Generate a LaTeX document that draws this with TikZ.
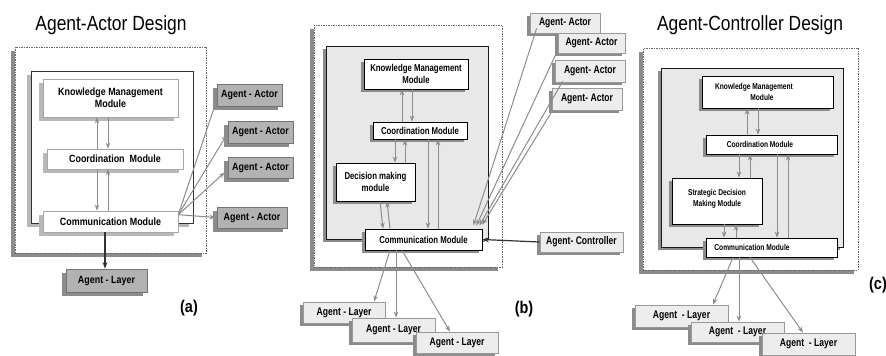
\documentclass[tikz,border=0pt]{standalone}
\usepackage{fontspec}
\newfontfamily\nfa[FakeStretch=0.85]{Liberation Sans}
\newfontfamily\nfb[FakeStretch=0.78]{Liberation Sans}
\usetikzlibrary{arrows.meta,shadows}
\begin{document}
\begin{tikzpicture}[x=1pt,y=-1pt,
  shA/.style={drop shadow={shadow xshift=-4pt,shadow yshift=-4pt,fill=black!45,opacity=1}},
  shB/.style={drop shadow={shadow xshift=-3pt,shadow yshift=-3pt,fill=black!45,opacity=1}},
  shL/.style={drop shadow={shadow xshift=-4pt,shadow yshift=-4pt,fill=black!28,opacity=1}},
  outerbox/.style={draw=black!60, dash pattern=on 1.5pt off 1pt, fill=white, line width=0.9pt, inner sep=0,
     drop shadow={shadow xshift=-4pt,shadow yshift=-4pt,fill=black!45,opacity=1}},
  innerA/.style={draw=black!80, fill=white, line width=1pt, inner sep=0, shL},
  innerB/.style={draw=black!90, fill=black!9, line width=1pt, inner sep=0, shB},
  modA/.style={draw=black!35, fill=white, line width=0.6pt, inner sep=0, align=center, shL,
     font=\nfa\bfseries\fontsize{10.5}{12}\selectfont},
  modB/.style={draw=black, fill=white, line width=0.8pt, inner sep=0, align=center, shB,
     font=\nfb\bfseries\fontsize{10}{11.5}\selectfont},
  modC/.style={modB, font=\nfb\bfseries\fontsize{8.5}{10.5}\selectfont},
  extA/.style={draw=black!55, fill=black!30, line width=0.8pt, inner sep=0, align=center, shA,
     font=\nfa\bfseries\fontsize{10.5}{12}\selectfont},
  extB/.style={draw=black!40, fill=black!7, line width=0.8pt, inner sep=0, align=center, shB,
     font=\nfb\bfseries\fontsize{11}{13}\selectfont},
  title/.style={font=\nfa\fontsize{20.5}{24}\selectfont, inner sep=0},
  tag/.style={font=\nfa\bfseries\fontsize{17}{20}\selectfont, inner sep=0},
  arr/.style={draw=black!45, line width=1pt, -{Stealth[length=6pt,width=4.5pt]}},
  darr/.style={draw=black!80, line width=1.2pt, -{Stealth[length=6.5pt,width=5pt]}}
]
\useasboundingbox (0,0) rectangle (886,356);

% ================= (a) =================
\node[title] (ta) at (111,25) {Agent-Actor Design};
\node[outerbox, minimum width=191pt, minimum height=206pt] (aout) at (110.5,150) {};
\node[innerA, minimum width=162pt, minimum height=152pt] (ain) at (112,147) {};
\node[modA, minimum width=135pt, minimum height=38pt] (akm) at (110.5,98) {Knowledge Management\\Module};
\node[modA, minimum width=136pt, minimum height=20pt] (aco) at (115,159) {Coordination\ \ Module};
\node[modA, minimum width=135pt, minimum height=21pt] (acm) at (110.5,221.5) {Communication Module};

\node[extA, minimum width=65pt, minimum height=22pt] (aa1) at (249.5,95) {Agent - Actor};
\node[extA, minimum width=65pt, minimum height=22pt] (aa2) at (260.5,132) {Agent - Actor};
\node[extA, minimum width=65pt, minimum height=21pt] (aa3) at (260.5,167.5) {Agent - Actor};
\node[extA, minimum width=70pt, minimum height=21pt] (aa4) at (252,217.5) {Agent - Actor};
\node[extA, minimum width=81pt, minimum height=23pt] (aly) at (106.5,280.5) {Agent - Layer};
\node[tag] (la) at (189,308) {(a)};

\draw[arr] ([xshift=-13.5pt]akm.south |- aco.north) -- ([xshift=-13.5pt]akm.south);
\draw[arr] ([xshift=-2.5pt]akm.south) -- ([xshift=-2.5pt]akm.south |- aco.north);
\draw[arr] ([xshift=-13.5pt]akm.south |- aco.south) -- ([xshift=-13.5pt]acm.north);
\draw[arr] ([xshift=-2.5pt]acm.north) -- ([xshift=-2.5pt]akm.south |- aco.south);

\coordinate (aj) at ([yshift=-4pt]acm.north east);
\draw[arr] (aj) -- ([yshift=6pt]aa1.south west);
\draw[arr] (aj) -- ([yshift=-3pt,xshift=-1pt]aa2.west);
\draw[arr] (aj) -- ([yshift=-5pt,xshift=-3pt]aa3.west);
\draw[arr] (aj) -- ([xshift=-1pt]aa4.west);
\draw[darr] ([xshift=-5.5pt]acm.south) -- ([xshift=-1.5pt]aly.north);

% ================= (b) =================
\node[outerbox, minimum width=188pt, minimum height=242pt] (bout) at (408,146) {};
\node[innerB, minimum width=162pt, minimum height=193pt] (bin) at (407,142.5) {};
\node[modB, minimum width=104pt, minimum height=30pt] (bkm) at (416,74) {Knowledge Management\\Module};
\node[modB, minimum width=94pt, minimum height=17pt] (bco) at (420,130.5) {Coordination Module};
\node[modB, minimum width=79pt, minimum height=38pt] (bdm) at (375.5,182) {Decision making\\module};
\node[modB, minimum width=117pt, minimum height=21pt] (bcm) at (423.5,239.5) {Communication Module};

\node[extB, minimum width=70pt, minimum height=20pt] (ba1) at (565,23) {Agent- Actor};
\node[extB, minimum width=67pt, minimum height=20pt] (ba2) at (591.5,43) {Agent- Actor};
\node[extB, minimum width=70pt, minimum height=22pt] (ba3) at (590,71) {Agent- Actor};
\node[extB, minimum width=70pt, minimum height=22pt] (ba4) at (587,99) {Agent- Actor};
\node[extB, minimum width=83pt, minimum height=20pt] (bct) at (581.5,242) {Agent- Controller};
\node[extB, minimum width=82pt, minimum height=21pt] (bl1) at (344,312.5) {Agent - Layer};
\node[extB, minimum width=83pt, minimum height=24pt] (bl2) at (393.5,330) {Agent - Layer};
\node[extB, minimum width=82pt, minimum height=21pt] (bl3) at (457,342.5) {Agent - Layer};
\node[tag] (lb) at (524,309) {(b)};

\draw[arr] ([xshift=-14pt]bkm.south |- bco.north) -- ([xshift=-14pt]bkm.south);
\draw[arr] ([xshift=-4pt]bkm.south) -- ([xshift=-4pt]bkm.south |- bco.north);
\draw[arr] ([xshift=-25pt]bco.south) -- ([xshift=-25pt]bco.south |- bdm.north);
\draw[arr] ([xshift=-15pt]bco.south |- bdm.north) -- ([xshift=-15pt]bco.south);
\draw[arr] ([xshift=8pt]bco.south) -- ([xshift=8pt]bco.south |- bcm.north);
\draw[arr] ([xshift=18pt]bco.south |- bcm.north) -- ([xshift=18pt]bco.south);
\draw[arr] ([xshift=4.5pt]bdm.south) -- ([xshift=-40.5pt]bcm.north);
\draw[arr] ([xshift=-33.5pt]bcm.north) -- ([xshift=11.5pt]bdm.south);

\draw[arr] ([xshift=7pt,yshift=5pt]ba1.south west) -- ([xshift=-9pt,yshift=3pt]bcm.north east);
\draw[arr] ([yshift=3pt]ba2.south west) -- ([xshift=-6pt,yshift=3pt]bcm.north east);
\draw[arr] ([xshift=8pt,yshift=1pt]ba3.south west) -- ([xshift=-3pt,yshift=3pt]bcm.north east);
\draw[arr] ([xshift=1pt]ba4.south west) -- ([xshift=0pt,yshift=4pt]bcm.north east);
\draw[darr] (bct.west) -- (bcm.east);

\draw[arr] ([xshift=-33.5pt]bcm.south) -- ([xshift=30pt]bl1.north);
\draw[arr] ([xshift=-27.5pt]bcm.south) -- ([xshift=2.5pt]bl2.north);
\draw[arr] ([xshift=-21.5pt]bcm.south) -- ([xshift=-7pt]bl3.north);

% ================= (c) =================
\node[title] (tc) at (750,25) {Agent-Controller Design};
\node[outerbox, minimum width=215pt, minimum height=222pt] (cout) at (750.5,159) {};
\node[innerB, minimum width=182pt, minimum height=179pt] (cin) at (752,157.5) {};
\node[modC, minimum width=131pt, minimum height=32pt] (ckm) at (767.5,92) {Knowledge Management\hspace*{27pt}\\Module\hspace*{11pt}};
\node[modC, minimum width=131pt, minimum height=19pt] (cco) at (771.5,144.5) {Coordination Module\hspace*{23pt}};
\node[modC, minimum width=90pt, minimum height=46pt] (cdm) at (717,201) {Strategic Decision\\Making Module\\[-4pt]\mbox{}};
\node[modC, minimum width=131pt, minimum height=19pt] (ccm) at (771.5,247.5) {Communication Module\hspace*{39pt}};

\node[extB, minimum width=93pt, minimum height=22pt] (cl1) at (681.5,316) {Agent\ \ - Layer};
\node[extB, minimum width=93pt, minimum height=20pt] (cl2) at (737.5,332) {Agent\ \ - Layer};
\node[extB, minimum width=93pt, minimum height=22pt] (cl3) at (808.5,344) {Agent\ \ - Layer};
\node[tag] (lc) at (878,285) {(c)};

\draw[arr] ([xshift=-20.5pt]ckm.south |- cco.north) -- ([xshift=-20.5pt]ckm.south);
\draw[arr] ([xshift=-9.5pt]ckm.south) -- ([xshift=-9.5pt]ckm.south |- cco.north);
\draw[arr] ([xshift=-32.5pt]cco.south) -- ([xshift=-32.5pt]cco.south |- cdm.north);
\draw[arr] ([xshift=-21.5pt]cco.south |- cdm.north) -- ([xshift=-21.5pt]cco.south);
\draw[arr] ([xshift=5.5pt]cco.south) -- ([xshift=5.5pt]ccm.north);
\draw[arr] ([xshift=16.5pt]ccm.north) -- ([xshift=16.5pt]cco.south);
\draw[arr] ([xshift=7pt]cdm.south) -- ([xshift=7pt]cdm.south |- ccm.north);
\draw[arr] ([xshift=19pt]cdm.south |- ccm.north) -- ([xshift=19pt]cdm.south);

\draw[arr] ([xshift=-38.5pt]ccm.south) -- ([xshift=31.5pt]cl1.north);
\draw[arr] ([xshift=-32.5pt]ccm.south) -- ([xshift=1.5pt]cl2.north);
\draw[arr] ([xshift=-21.5pt]ccm.south) -- ([xshift=-5.5pt]cl3.north);
\end{tikzpicture}
\end{document}
